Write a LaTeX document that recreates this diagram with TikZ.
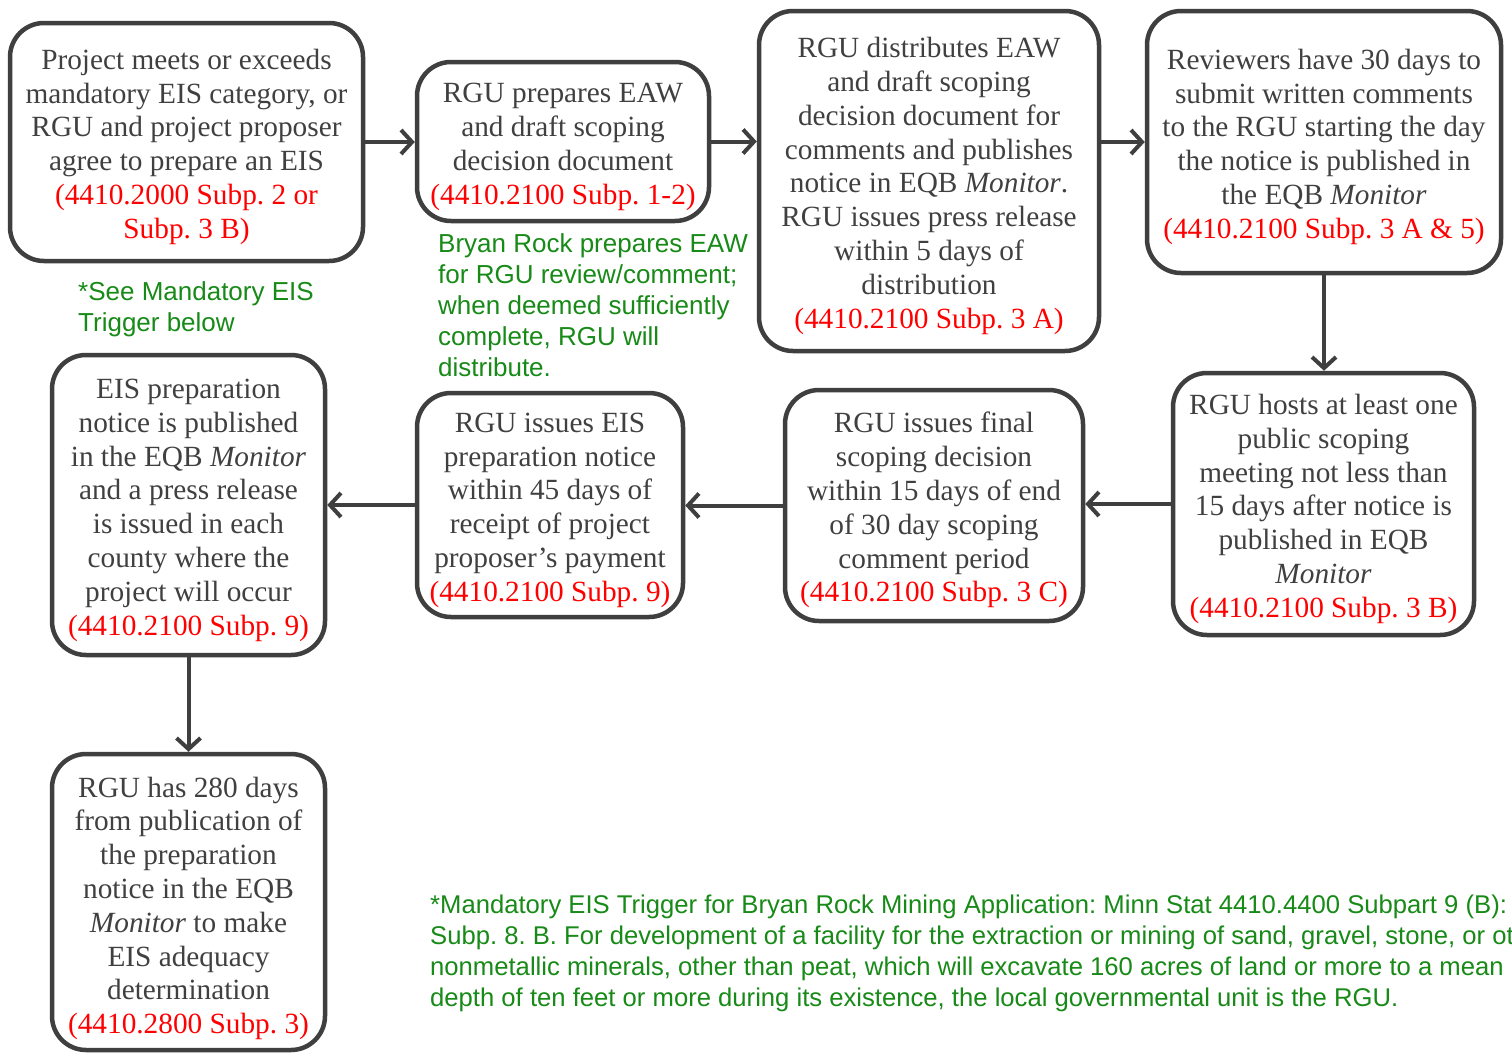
\documentclass[tikz,border=0pt]{standalone}
\usepackage{fontspec}
\setmainfont{Liberation Serif}
\newfontfamily\greenfont{Liberation Sans}
\usetikzlibrary{arrows.meta}
\frenchspacing
\definecolor{txtgray}{HTML}{404040}
\definecolor{boxgray}{HTML}{3F3F3F}
\definecolor{refred}{HTML}{FF0000}
\definecolor{notegreen}{HTML}{178A17}
\newcommand{\rf}[1]{\textcolor{refred}{#1}}
\newcommand{\up}{\rule{0pt}{30pt}}
\begin{document}
\begin{tikzpicture}[x=1pt,y=-1pt,
  stepbox/.style={draw=boxgray, line width=4.5pt, rounded corners=34pt, align=center,
    text=txtgray, font=\fontsize{29.3}{33.8}\selectfont, inner sep=0pt},
  flow/.style={draw=boxgray, line width=4pt, -{Straight Barb[length=11pt,width=24pt,line width=4pt]}},
  note/.style={text=notegreen, font=\greenfont\fontsize{26}{31}\selectfont, align=left,
    inner sep=0pt, anchor=north west}]
\clip (0,0) rectangle (1512,1055);
\fill[white] (0,0) rectangle (1512,1055);

\node[stepbox, minimum width=353pt, minimum height=238pt] (a) at (186.5,142)
  {\up Project meets or exceeds\\mandatory EIS category, or\\RGU and project proposer\\agree to prepare an EIS\\
   \rf{(4410.2000 Subp. 2 or}\\ \rf{Subp. 3 B)}};
\node[stepbox, minimum width=292pt, minimum height=159pt] (b) at (563,141.5)
  {\up RGU prepares EAW\\and draft scoping\\decision document\\ \rf{(4410.2100 Subp. 1-2)}};
\node[stepbox, minimum width=340pt, minimum height=340pt] (c) at (929,181)
  {\up RGU distributes EAW\\and draft scoping\\decision document for\\comments and publishes\\notice in EQB \textit{Monitor}.\\
   RGU issues press release\\within 5 days of\\distribution\\ \rf{(4410.2100 Subp. 3 A)}};
\node[stepbox, minimum width=354pt, minimum height=262pt] (d) at (1324,142)
  {\up Reviewers have 30 days to\\submit written comments\\to the RGU starting the day\\the notice is published in\\
   the EQB \textit{Monitor}\\ \rf{(4410.2100 Subp. 3 A \& 5)}};
\node[stepbox, minimum width=301pt, minimum height=262pt] (e) at (1323.5,504)
  {\up RGU hosts at least one\\public scoping\\meeting not less than\\15 days after notice is\\published in EQB\\
   \textit{Monitor}\\ \rf{(4410.2100 Subp. 3 B)}};
\node[stepbox, minimum width=298pt, minimum height=231pt] (f) at (934,505.5)
  {\up RGU issues final\\scoping decision\\within 15 days of end\\of 30 day scoping\\comment period\\ \rf{(4410.2100 Subp. 3 C)}};
\node[stepbox, minimum width=266pt, minimum height=224pt] (g) at (550,505)
  {\up RGU issues EIS\\preparation notice\\within 45 days of\\receipt of project\\proposer’s payment\\ \rf{(4410.2100 Subp. 9)}};
\node[stepbox, minimum width=273pt, minimum height=300pt] (h) at (188.5,505)
  {\up EIS preparation\\notice is published\\in the EQB \textit{Monitor}\\and a press release\\is issued in each\\
   county where the\\project will occur\\ \rf{(4410.2100 Subp. 9)}};
\node[stepbox, minimum width=273pt, minimum height=296pt] (i) at (188.5,902)
  {\rule{0pt}{33pt}RGU has 280 days\\from publication of\\the preparation\\notice in the EQB\\\textit{Monitor} to make\\
   EIS adequacy\\determination\\ \rf{(4410.2800 Subp. 3)}};

\draw[flow] (a.east) -- (a.east -| b.west);
\draw[flow] (b.east) -- (b.east -| c.west);
\draw[flow] (d.west -| c.east) -- (d.west);
\draw[flow] (d.south) -- (d.south |- e.north);
\draw[flow] (e.west) -- (e.west -| f.east);
\draw[flow] (f.west) -- (f.west -| g.east);
\draw[flow] (g.west) -- (g.west -| h.east);
\draw[flow] (h.south) -- (i.north);

\node[note] (n1) at (78,281) {*See Mandatory EIS\\Trigger below};
\node[note] (n2) at (438,233) {Bryan Rock prepares EAW\\for RGU review/comment;\\when deemed sufficiently\\complete, RGU will\\distribute.};
\node[note, font=\greenfont\fontsize{25.65}{31}\selectfont] (n3) at (430,895) {*Mandatory EIS Trigger for Bryan Rock Mining Application: Minn Stat 4410.4400 Subpart 9 (B):\\
  Subp. 8. B. For development of a facility for the extraction or mining of sand, gravel, stone, or other\\
  nonmetallic minerals, other than peat, which will excavate 160 acres of land or more to a mean\\
  depth of ten feet or more during its existence, the local governmental unit is the RGU.};
\end{tikzpicture}
\end{document}
